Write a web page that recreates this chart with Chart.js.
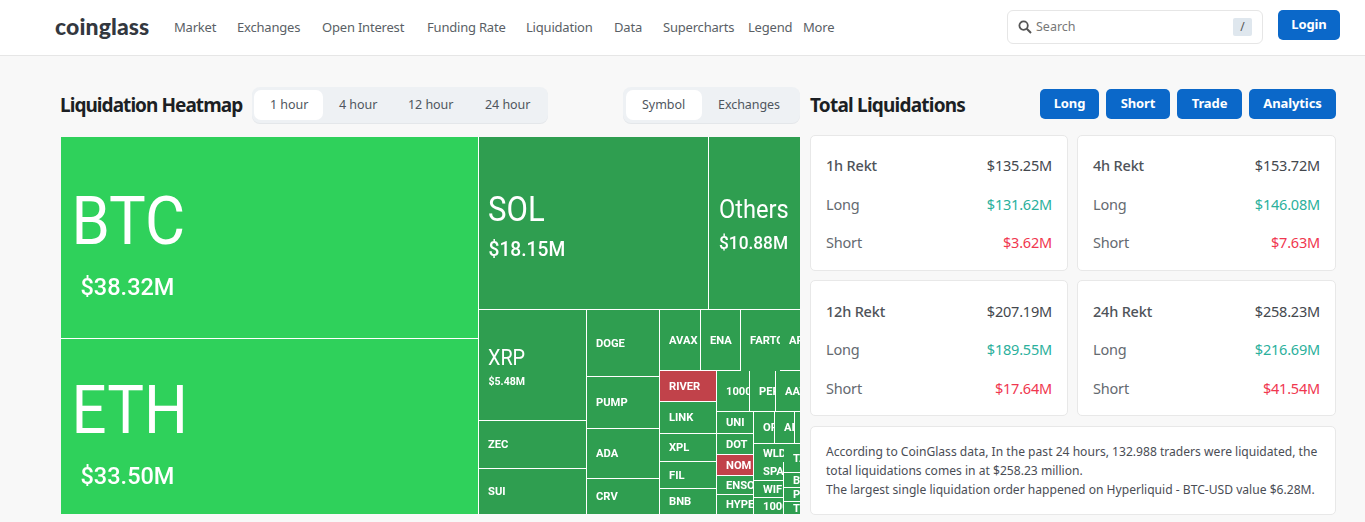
<!DOCTYPE html>
<html><head><meta charset="utf-8">
<script src="https://cdn.jsdelivr.net/npm/chart.js@4"></script>
<style>
html,body{margin:0;padding:0;width:1365px;height:522px;overflow:hidden;background:#f8f8f8;font-family:"Noto Sans",sans-serif;color:#555}
.a{position:absolute;white-space:nowrap}
#head{left:0;top:0;width:1365px;height:55px;background:#fff;border-bottom:1px solid #e6e6e6}
.nav{top:18px;font-size:13px;line-height:18px;color:#5a5f66;letter-spacing:-.2px}
.pill{background:#eef1f4;border-radius:8px;box-shadow:0 1px 0 #e4e7ea}
.on{background:#fff;border-radius:7px}
.tab{font-size:12.5px;line-height:18px;top:96px;color:#4f565e;letter-spacing:-.05px}
.h{font-weight:700;font-size:19px;letter-spacing:-.95px;color:#1c1f24;line-height:26px}
.btn{background:#0b68c9;color:#fff;font-weight:700;font-size:13px;border-radius:5px;text-align:center;line-height:29px;height:30px;letter-spacing:-.1px}
.card{background:#fff;border:1px solid #e8e8e8;border-radius:5px;box-sizing:border-box}
.t{font-size:14.5px;line-height:20px;letter-spacing:-.2px}
.b{font-weight:500;color:#4e5359}
.g{color:#2bb09c}.r{color:#f0374f}.d{color:#43474d}.m{color:#656a70}
</style></head><body>
<div class="a" id="head"></div>
<div class="a" style="left:55px;top:9px;font:900 23px/34px Lato,sans-serif;color:#33383f;letter-spacing:.1px">coinglass</div>
<div class="a nav" style="left:174px">Market</div>
<div class="a nav" style="left:237px">Exchanges</div>
<div class="a nav" style="left:322px">Open Interest</div>
<div class="a nav" style="left:427px">Funding Rate</div>
<div class="a nav" style="left:526px">Liquidation</div>
<div class="a nav" style="left:614px">Data</div>
<div class="a nav" style="left:663px">Supercharts</div>
<div class="a nav" style="left:748px">Legend</div>
<div class="a nav" style="left:803px">More</div>
<div class="a" style="left:1007px;top:10px;width:256px;height:34px;background:#fff;border:1px solid #e6e6e6;border-radius:6px;box-sizing:border-box"></div>
<svg class="a" style="left:1018px;top:20px" width="14" height="14" viewBox="0 0 14 14"><circle cx="5.6" cy="5.6" r="4.2" fill="none" stroke="#555" stroke-width="1.8"/><path d="M8.8 8.8L13 13" stroke="#555" stroke-width="2"/></svg>
<div class="a" style="left:1036px;top:18px;font-size:12.5px;line-height:18px;color:#777">Search</div>
<div class="a" style="left:1233px;top:18px;width:19px;height:18px;background:#dfe7ee;border-radius:2px;text-align:center;font-size:12px;line-height:18px;color:#555">/</div>
<div class="a btn" style="left:1278px;top:10px;width:62px">Login</div>

<div class="a h" style="left:60px;top:92px">Liquidation Heatmap</div>
<div class="a pill" style="left:252px;top:87px;width:296px;height:36px"></div>
<div class="a on" style="left:254px;top:90px;width:69px;height:30px"></div>
<div class="a tab" style="left:270px">1 hour</div>
<div class="a tab" style="left:339px">4 hour</div>
<div class="a tab" style="left:408px">12 hour</div>
<div class="a tab" style="left:485px">24 hour</div>
<div class="a pill" style="left:623px;top:87px;width:177px;height:36px"></div>
<div class="a on" style="left:626px;top:90px;width:76px;height:30px"></div>
<div class="a tab" style="left:642px">Symbol</div>
<div class="a tab" style="left:718px">Exchanges</div>

<div class="a" style="left:61px;top:137px;width:739px;height:377px;background:#fff"><canvas id="c" width="739" height="377" style="display:block"></canvas></div>

<div class="a h" style="left:810px;top:92px;letter-spacing:-.78px">Total Liquidations</div>
<div class="a btn" style="left:1040px;top:89px;width:59px">Long</div>
<div class="a btn" style="left:1106px;top:89px;width:64px">Short</div>
<div class="a btn" style="left:1177px;top:89px;width:65px">Trade</div>
<div class="a btn" style="left:1249px;top:89px;width:87px">Analytics</div>
<div id="cards"></div>
<div class="a card" style="left:810px;top:426px;width:526px;height:89px"></div>
<div class="a" style="left:826px;top:442px;font-size:12.1px;line-height:19px;color:#4a4d55">According to CoinGlass data, In the past 24 hours, 132.988 traders were liquidated, the<br>total liquidations comes in at $258.23 million.<br>The largest single liquidation order happened on Hyperliquid - BTC-USD value $6.28M.</div>

<script>
// Tile names, in layout order ('' = tile lies beyond the clipped right edge, name not visible)
const tileNames = ['BTC','ETH','SOL','Others','XRP','ZEC','SUI','DOGE','PUMP','ADA','CRV',
  'AVAX','ENA','FARTCOIN','APT','','RIVER','LINK','XPL','FIL','BNB',
  '1000PEPE','PEPE','AAVE','','','UNI','DOT','NOM','ENSO','HYPE',
  'OP','AIXBT','','','','WLD','SPACE','WIF','1000BONK',
  'TAO','','','BCH','PENGU','TRX','','','','','',''];
// Liquidations in $M (labels where printed, tile areas otherwise)
const tileValues = [38.32,33.50,18.15,10.88,5.48,2.37,2.27,2.24,1.74,1.67,1.20,
  1.12,1.10,1.07,0.98,0.86,0.81,0.81,0.72,0.69,0.68,
  0.645,0.49,0.49,0.45,0.415,0.37,0.37,0.35,0.34,0.34,
  0.30,0.29,0.27,0.25,0.23,0.25,0.25,0.23,0.23,
  0.31,0.28,0.25,0.17,0.16,0.15,0.15,0.13,0.12,0.11,0.11,0.11];
const shortLedTiles = ['RIVER','NOM'];
const noLineAfter = ['FARTCOIN','WLD'];

const rektPeriods = ['1h Rekt','4h Rekt','12h Rekt','24h Rekt'];
const rektTotal = ['$135.25M','$153.72M','$207.19M','$258.23M'];
const rektLong = ['$131.62M','$146.08M','$189.55M','$216.69M'];
const rektShort = ['$3.62M','$7.63M','$17.64M','$41.54M'];

// side cards
(function(){
  const lefts=[810,1077], tops=[135,280]; let html='';
  rektPeriods.forEach((p,i)=>{
    const L=lefts[i%2], T=tops[i>>1], ys=i>1?[21,59,98]:[20,59,97];
    const w=i%2?259:258;
    html+=`<div class="a card" style="left:${L}px;top:${T}px;width:${w}px;height:136px"></div>`;
    const rows=[[p,rektTotal[i],'b','d'],['Long',rektLong[i],'m','g'],['Short',rektShort[i],'m','r']];
    rows.forEach((r,j)=>{
      html+=`<div class="a t ${r[2]}" style="left:${L+16}px;top:${T+ys[j]}px">${r[0]}</div>`;
      html+=`<div class="a t ${r[3]}" style="right:${1365-(L+w-16)}px;top:${T+ys[j]}px">${r[1]}</div>`;
    });
  });
  document.getElementById('cards').innerHTML=html;
})();

// Squarified treemap layout (golden-ratio variant) computed from the values, in scale units
const FULL_W=785, FULL_H=377, SHOWN_W=739, RATIO=(1+Math.sqrt(5))/2;
function layoutTiles(values){
  const total=values.reduce((a,b)=>a+b,0), k=FULL_W*FULL_H/total;
  const rect={x:0,y:0,w:FULL_W,h:FULL_H}, out=[];
  const worst=(row,s,fixed)=>{
    const f=fixed*fixed*RATIO, mx=Math.max(...row), mn=Math.min(...row);
    return Math.max(f*mx/(s*s),s*s/(f*mn));
  };
  const place=(row,s,fixed)=>{
    const horiz=fixed===rect.w, other=s/fixed; let pos=horiz?rect.x:rect.y;
    row.forEach(a=>{
      const step=a/other;
      out.push(horiz?{x:pos,y:rect.y,w:step,h:other}:{x:rect.x,y:pos,w:other,h:step});
      pos+=step;
    });
    if(horiz){rect.y+=other;rect.h-=other}else{rect.x+=other;rect.w-=other}
  };
  let row=[],s=0,best=Infinity,fixed=Math.min(rect.w,rect.h);
  for(let i=0;i<values.length;){
    const a=values[i]*k, score=worst([...row,a],s+a,fixed);
    if(score<=best){row.push(a);s+=a;best=score;i++}
    else{place(row,s,fixed);fixed=Math.min(rect.w,rect.h);row=[];s=0;best=Infinity}
  }
  if(row.length)place(row,s,fixed);
  return out;
}
const tiles=layoutTiles(tileValues);

// Treemap controller: positions bar elements through the chart's x and y scales
class TileController extends Chart.DatasetController{
  update(mode){const m=this._cachedMeta;this.updateElements(m.data,0,m.data.length,mode)}
  updateElements(els,start,count,mode){
    const m=this._cachedMeta,xs=m.xScale,ys=m.yScale;
    for(let i=start;i<start+count;i++){
      const t=tiles[i], nm=tileNames[i], open=noLineAfter.includes(nm)?1:0;
      const x0=t.x>0.5?Math.round(xs.getPixelForValue(t.x))+1:0, x1=Math.round(xs.getPixelForValue(t.x+t.w));
      const y0=t.y>0.5?Math.round(ys.getPixelForValue(t.y))+1:0, y1=Math.round(ys.getPixelForValue(t.y+t.h));
      this.updateElement(els[i],i,{
        horizontal:false,borderSkipped:{},enableBorderRadius:false,
        x:(x0+x1+open)/2,width:x1-x0+open,
        y:y0,base:y1+open,inflateAmount:0,
        options:this.resolveDataElementOptions(i,mode)
      },mode);
    }
  }
}
TileController.id='tile';
TileController.defaults={datasetElementType:false,dataElementType:'bar'};
Chart.register(TileController);

const BRIGHT='#2fd15b',DIM='#2f9e50',RED='#c1424a';
const tileColors=tileNames.map((n,i)=>shortLedTiles.includes(n)?RED:(tileValues[i]>=30?BRIGHT:DIM));

function tier(v){
  if(v>=30)return{n:67,w:400,nx:10.5,ny:6,vs:24.5,vx:19.5,vy:57.5,vw:500,c:.92};
  if(v>=15)return{n:35,w:400,nx:9,ny:-2,vs:20,vx:9.5,vy:32.5,vw:500,c:.89};
  if(v>=8)return{n:25,w:400,nx:10,ny:-5,vs:18,vx:10,vy:26,vw:500,c:.945};
  if(v>=5)return{n:22,w:400,nx:9,ny:0,vs:11,vx:9.5,vy:20,vw:700,c:.9};
  return null;
}
const tileLabels={id:'tileLabels',afterDatasetsDraw(chart){
  const ctx=chart.ctx,FF='Roboto,sans-serif';
  chart.getDatasetMeta(0).data.forEach((el,i)=>{
    const nm=tileNames[i]; if(!nm)return;
    const L=el.x-el.width/2,T=el.y,H=el.base-el.y,cy=T+H/2,tr=tier(tileValues[i]);
    ctx.save();ctx.beginPath();ctx.rect(L,T,el.width,H);ctx.clip();
    ctx.fillStyle='#fff';
    if(tr){
      ctx.textBaseline='alphabetic';
      ctx.font=`${tr.w} ${tr.n}px ${FF}`;
      ctx.fillText(nm,L+tr.nx,cy+tr.ny,ctx.measureText(nm).width*tr.c);
      const val='$'+tileValues[i].toFixed(2)+'M';
      ctx.font=`${tr.vw} ${tr.vs}px ${FF}`;
      ctx.fillText(val,L+tr.vx,cy+tr.vy,ctx.measureText(val).width*.96);
    }else{
      ctx.textBaseline='middle';ctx.font=`700 11.2px ${FF}`;ctx.fillText(nm,L+9,cy+1);
    }
    ctx.restore();
  });
}};

new Chart(document.getElementById('c'),{
  type:'tile',
  data:{labels:tileNames,datasets:[{label:'Liquidations ($M)',data:tileValues,backgroundColor:tileColors,borderWidth:0}]},
  options:{responsive:false,animation:false,devicePixelRatio:1,
    layout:{padding:0},
    plugins:{legend:{display:false},tooltip:{enabled:false},title:{display:false}},
    events:[],
    scales:{
      x:{type:'linear',display:false,min:0,max:SHOWN_W,offset:false},
      y:{type:'linear',display:false,min:0,max:FULL_H,reverse:true,offset:false}
    }},
  plugins:[tileLabels]
});
</script>
</body></html>
